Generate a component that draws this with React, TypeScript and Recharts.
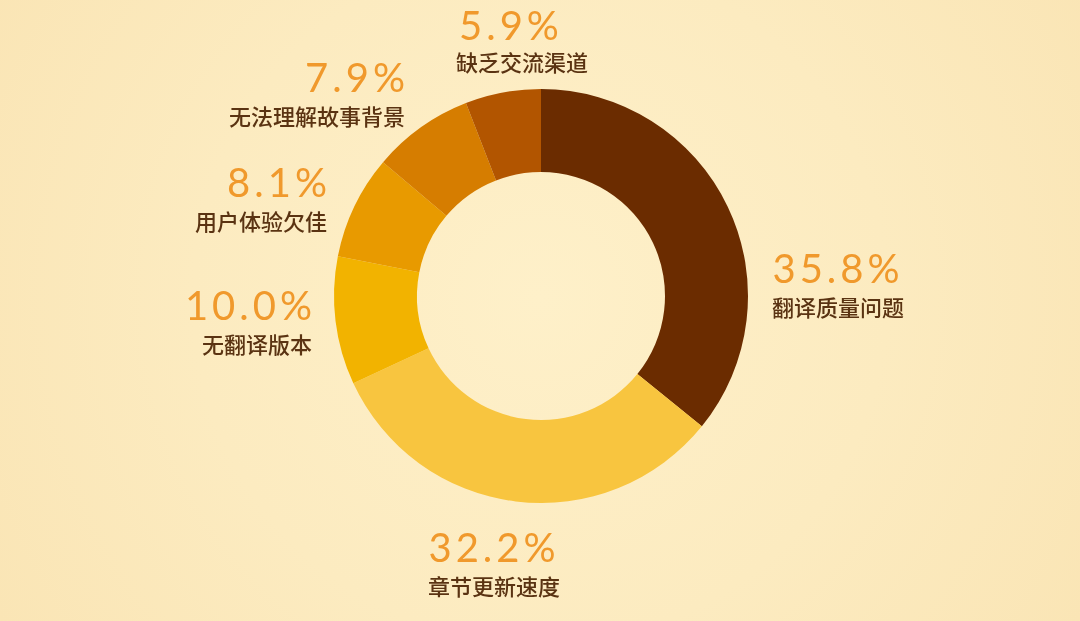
import React from 'react'
import { PieChart, Pie, Cell } from 'recharts'

const CATEGORIES = ['翻译质量问题', '章节更新速度', '无翻译版本', '用户体验欠佳', '无法理解故事背景', '缺乏交流渠道']
const SHARES = [35.8, 32.2, 10.0, 8.1, 7.9, 5.9]
const COLORS = ['#6B2C00', '#F8C53F', '#F2B300', '#E89A00', '#D67D00', '#B25500']

// label anchors relative to the pie centre: [dx, dy of percent baseline, textAnchor]
const LABEL_LAYOUT: [number, number, string][] = [
    [297, -13, 'middle'],
    [-47, 266, 'middle'],
    [-229, 24, 'end'],
    [-214, -99, 'end'],
    [-136, -204, 'end'],
    [-82, -256, 'start'],
]

const W = 1080
const H = 621
const CX = 541
const CY = 296

const data = CATEGORIES.map((name, i) => ({ name, value: SHARES[i] }))

function renderLabel(props: any) {
    const i = props.index
    const [dx, dy, anchor] = LABEL_LAYOUT[i]
    const x = CX + dx
    const y = CY + dy
    return (
        <g key={'lbl-' + i}>
            <text
                x={anchor === 'end' ? x + 4 : x}
                y={y}
                textAnchor={anchor as any}
                fill="#F0992C"
                fontFamily="Lato, 'Noto Sans', sans-serif"
                fontSize={40}
                letterSpacing={4}
            >
                {SHARES[i].toFixed(1) + '%'}
            </text>
            <text
                x={anchor === 'start' ? x - 3 : x}
                y={y + (i === 5 ? 31 : 33)}
                textAnchor={anchor as any}
                fill="#5A3312"
                fontFamily="'Noto Sans CJK SC', sans-serif"
                fontSize={22}
                fontWeight={500}
            >
                {CATEGORIES[i]}
            </text>
        </g>
    )
}

export default function App() {
    return (
        <div
            style={{
                position: 'fixed',
                top: 0,
                left: 0,
                width: W,
                height: H,
                background: 'radial-gradient(circle at 50% 48%, #FEF0C9 0%, #FCEBC0 55%, #FAE5B5 100%)',
            }}
        >
            <PieChart width={W} height={H} margin={{ top: 0, right: 0, bottom: 0, left: 0 }}>
                <Pie
                    data={data}
                    dataKey="value"
                    nameKey="name"
                    cx={CX}
                    cy={CY}
                    innerRadius={124}
                    outerRadius={207}
                    startAngle={90}
                    endAngle={-270}
                    stroke="none"
                    label={renderLabel}
                    labelLine={false}
                    isAnimationActive={false}
                >
                    {data.map((d, i) => (
                        <Cell key={d.name} fill={COLORS[i]} />
                    ))}
                </Pie>
            </PieChart>
        </div>
    )
}
